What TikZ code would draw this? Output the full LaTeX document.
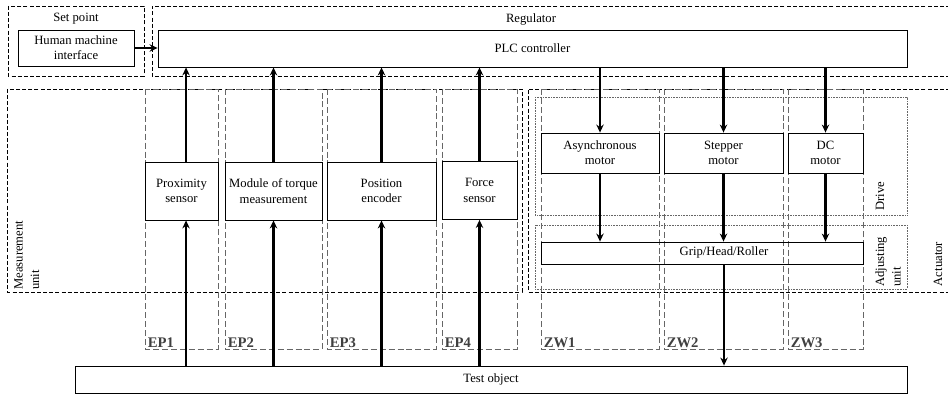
\documentclass[tikz,border=0pt]{standalone}
\usepackage{fontspec}
\setmainfont{Liberation Serif}
\usetikzlibrary{arrows.meta}
\begin{document}
\begin{tikzpicture}[x=0.75pt,y=-0.75pt,
  font=\fontsize{9.5pt}{11.5pt}\selectfont,
  outerbox/.style={draw=black,line width=0.6pt,dash pattern=on 3pt off 1.6pt},
  grpbox/.style={draw=black!60,line width=0.6pt,dash pattern=on 4.5pt off 2.2pt},
  dotbox/.style={draw=black!60,line width=0.6pt,dash pattern=on 0.6pt off 0.6pt},
  blk/.style={draw=black,line width=0.6pt,rectangle,align=center,inner sep=1pt},
  arr/.style={line width=2pt,-{Stealth[length=6pt,width=5.5pt]}},
  grplabel/.style={font=\fontsize{11pt}{12pt}\selectfont\bfseries,text=black!75,anchor=south west,inner sep=0pt},
  rot/.style={rotate=90,align=left,inner sep=0pt,font=\fontsize{9.5pt}{12.5pt}\selectfont}]
\useasboundingbox (0,0) rectangle (948,395);
% outer groups
\draw[outerbox] (8,6) rectangle (144,76);
\draw[outerbox] (950,6) -- (152,6) -- (152,76) -- (950,76);
\draw[outerbox] (7,89) rectangle (522,292);
\draw[outerbox] (950,89) -- (528,89) -- (528,292) -- (950,292);
\node (setpt) at (76,19) {Set point};
\node (reglab) at (531,19) {Regulator};
\node[rot,anchor=north west] (measlab) at (14,290) {Measurement\\unit};
\node[rot] (actlab) at (938,264) {Actuator};
% drive / adjusting
\draw[dotbox] (535,97) rectangle (907,215);
\draw[dotbox] (535,225) rectangle (907,289);
\node[rot] (drivelab) at (880,196) {Drive};
\node[rot,anchor=north west] (adjlab) at (875,287) {Adjusting\\unit};
% EP / ZW groups
\foreach \a/\b/\n in {145/218/EP1,225/322/EP2,327/436/EP3,442/517/EP4,541/659/ZW1,664/783/ZW2,788/863/ZW3}{
  \draw[grpbox] (\a,89) rectangle (\b,349);
  \node[grplabel] (lab\n) at (\a+2.5,348) {\n};
}
% blocks
\node[blk,minimum width=87pt,minimum height=27pt] (hmi) at (76,48) {Human machine\\interface};
\node[blk,minimum width=561.75pt,minimum height=27.75pt] (plc) at (532.5,48.5) {PLC controller};
\node[blk,minimum width=54.75pt,minimum height=43.5pt] (prox) at (181.5,191) {Proximity\\sensor};
\node[blk,minimum width=72.75pt,minimum height=43.5pt] (torque) at (273.5,191) {Module of torque\\measurement};
\node[blk,minimum width=81.75pt,minimum height=43.5pt] (pos) at (381.5,191) {Position\\encoder};
\node[blk,minimum width=56.25pt,minimum height=43.5pt] (force) at (479.5,190.5) {Force\\sensor};
\node[blk,minimum width=88.5pt,minimum height=30pt] (async) at (600,153) {Asynchronous\\motor};
\node[blk,minimum width=89.25pt,minimum height=30pt] (stepper) at (723.5,153) {Stepper\\motor};
\node[blk,minimum width=56.25pt,minimum height=30pt] (dc) at (825.5,153) {DC\\motor};
\node[blk,minimum width=241.5pt,minimum height=16.5pt] (grip) at (702,253) {};
\node (griplab) at (724,252.5) {Grip/Head/Roller};
\node[blk,minimum width=624pt,minimum height=20.25pt] (test) at (491,379.5) {Test object};
% arrows
\draw[arr] (hmi.east) -- (hmi.east -| plc.west);
\draw[arr] ([xshift=3.4pt]test.north -| prox) -- ([xshift=3.4pt]prox.south);
\draw[arr] ([xshift=3.4pt]prox.north) -- ([xshift=3.4pt]plc.south -| prox);
\foreach \s in {torque,pos,force}{
  \draw[arr] (test.north -| \s) -- (\s.south);
  \draw[arr] (\s.north) -- (plc.south -| \s);
}
\foreach \m in {async,stepper,dc}{
  \draw[arr] (plc.south -| \m) -- (\m.north);
  \draw[arr] (\m.south) -- (grip.north -| \m);
}
\draw[arr] (grip.south -| griplab) -- (test.north -| griplab);
\end{tikzpicture}
\end{document}
